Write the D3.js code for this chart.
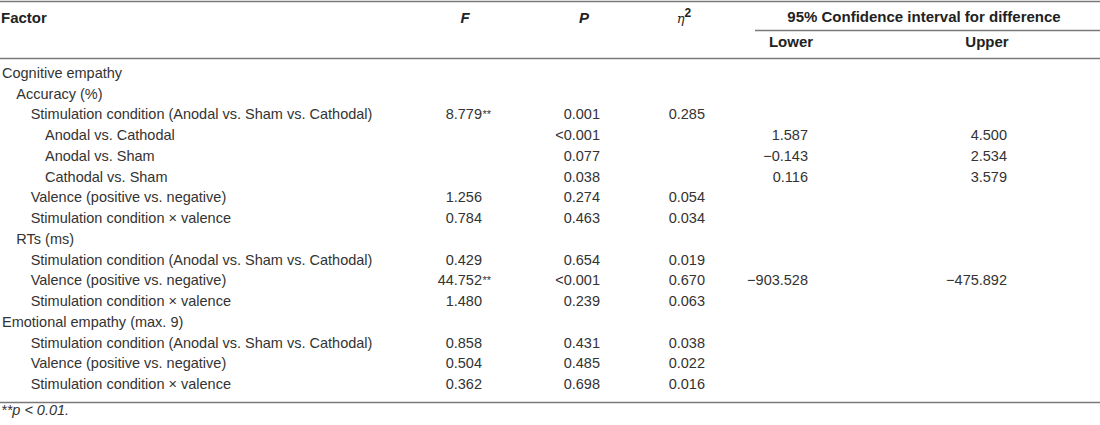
<!DOCTYPE html>
<html>
<head>
<meta charset="utf-8">
<script src="https://cdn.jsdelivr.net/npm/d3@7"></script>
<style>
  html, body { margin: 0; padding: 0; background: #fff; }
  svg { display: block; font-family: "Liberation Sans", Arial, sans-serif; }
</style>
</head>
<body>
<svg id="chart" width="1100" height="425"></svg>
<script>
// ---- data ----
const factors = [
  "Cognitive empathy",
  "Accuracy (%)",
  "Stimulation condition (Anodal vs. Sham vs. Cathodal)",
  "Anodal vs. Cathodal",
  "Anodal vs. Sham",
  "Cathodal vs. Sham",
  "Valence (positive vs. negative)",
  "Stimulation condition \u00d7 valence",
  "RTs (ms)",
  "Stimulation condition (Anodal vs. Sham vs. Cathodal)",
  "Valence (positive vs. negative)",
  "Stimulation condition \u00d7 valence",
  "Emotional empathy (max. 9)",
  "Stimulation condition (Anodal vs. Sham vs. Cathodal)",
  "Valence (positive vs. negative)",
  "Stimulation condition \u00d7 valence"
];
const levels = [0, 1, 2, 3, 3, 3, 2, 2, 1, 2, 2, 2, 0, 2, 2, 2];
const fValues = [null, null, 8.779, null, null, null, 1.256, 0.784, null, 0.429, 44.752, 1.480, null, 0.858, 0.504, 0.362];
const fStars  = ["", "", "**", "", "", "", "", "", "", "", "**", "", "", "", "", ""];
const pValues = ["", "", "0.001", "<0.001", "0.077", "0.038", "0.274", "0.463", "", "0.654", "<0.001", "0.239", "", "0.431", "0.485", "0.698"];
const etaValues = [null, null, 0.285, null, null, null, 0.054, 0.034, null, 0.019, 0.670, 0.063, null, 0.038, 0.022, 0.016];
const lowerValues = [null, null, null, 1.587, -0.143, 0.116, null, null, null, null, -903.528, null, null, null, null, null];
const upperValues = [null, null, null, 4.500, 2.534, 3.579, null, null, null, null, -475.892, null, null, null, null, null];
const columns = ["F", "P", "eta", "Lower", "Upper"];
const footnote = "**p < 0.01.";

// ---- layout ----
const svg = d3.select("#chart");
const W = 1100;
const fmt = d3.format(".3f");
const textColor = "#333";
const headColor = "#222";
const lineColor = "#7a7a7a";
const bodySize = 14.5;
const headSize = 15;

const y = d3.scalePoint().domain(d3.range(factors.length)).range([78, 389]);
const indent = d3.scaleLinear().domain([0, 3]).range([2, 45]);
// right edges of value columns
const colRight = d3.scaleOrdinal().domain(columns).range([482, 600, 705, 808, 1007]);
// centres of column headers
const colHead = d3.scaleOrdinal().domain(columns).range([465, 584, 684, 791, 987]);

// rules
const rules = [
  { x1: 0, x2: W, y: 1 },
  { x1: 755, x2: W, y: 30 },
  { x1: 0, x2: W, y: 58 },
  { x1: 0, x2: W, y: 402 }
];
svg.selectAll("line.rule").data(rules).join("line")
  .attr("class", "rule")
  .attr("x1", d => d.x1).attr("x2", d => d.x2)
  .attr("y1", d => d.y + 0.5).attr("y2", d => d.y + 0.5)
  .attr("stroke", lineColor).attr("stroke-width", 1.3);

// header
const head = svg.append("g").attr("fill", headColor).attr("font-size", headSize).attr("font-weight", "bold");
head.append("text").attr("x", 1).attr("y", 23).text("Factor");
head.append("text").attr("x", colHead("F")).attr("y", 23).attr("text-anchor", "middle").attr("font-style", "italic").text("F");
head.append("text").attr("x", colHead("P")).attr("y", 23).attr("text-anchor", "middle").attr("font-style", "italic").text("P");
const eta = head.append("text").attr("x", colHead("eta")).attr("y", 23).attr("text-anchor", "middle");
eta.append("tspan").attr("font-style", "italic").attr("font-weight", "normal").attr("font-family", "'DejaVu Serif', serif").attr("font-size", 13).text("\u03b7");
eta.append("tspan").attr("dy", -6).attr("font-size", 12).text("2");
head.append("text").attr("x", 924).attr("y", 22).attr("text-anchor", "middle").text("95% Confidence interval for difference");
head.append("text").attr("x", colHead("Lower")).attr("y", 47).attr("text-anchor", "middle").text("Lower");
head.append("text").attr("x", colHead("Upper")).attr("y", 47).attr("text-anchor", "middle").text("Upper");

// body rows
const body = svg.append("g").attr("fill", textColor).attr("font-size", bodySize);
const rows = body.selectAll("g.row").data(factors.map((f, i) => ({
  label: f, level: levels[i], F: fValues[i], stars: fStars[i], P: pValues[i],
  eta: etaValues[i], lower: lowerValues[i], upper: upperValues[i], i
}))).join("g").attr("class", "row").attr("transform", d => `translate(0,${y(d.i)})`);

rows.append("text").attr("x", d => indent(d.level)).text(d => d.label);

rows.filter(d => d.F != null).append("text")
  .attr("x", colRight("F")).attr("text-anchor", "end").text(d => fmt(d.F));
rows.filter(d => d.stars).append("text")
  .attr("x", colRight("F") + 0.5).attr("font-size", 11).attr("dy", -1.5).text(d => d.stars);
rows.filter(d => d.P).append("text")
  .attr("x", colRight("P")).attr("text-anchor", "end").text(d => d.P);
rows.filter(d => d.eta != null).append("text")
  .attr("x", colRight("eta")).attr("text-anchor", "end").text(d => fmt(d.eta));
rows.filter(d => d.lower != null).append("text")
  .attr("x", colRight("Lower")).attr("text-anchor", "end").text(d => fmt(d.lower));
rows.filter(d => d.upper != null).append("text")
  .attr("x", colRight("Upper")).attr("text-anchor", "end").text(d => fmt(d.upper));

// footnote
svg.append("text").attr("x", 1).attr("y", 415).attr("font-size", bodySize).attr("font-style", "italic")
  .attr("fill", textColor).text(footnote);
</script>
</body>
</html>
